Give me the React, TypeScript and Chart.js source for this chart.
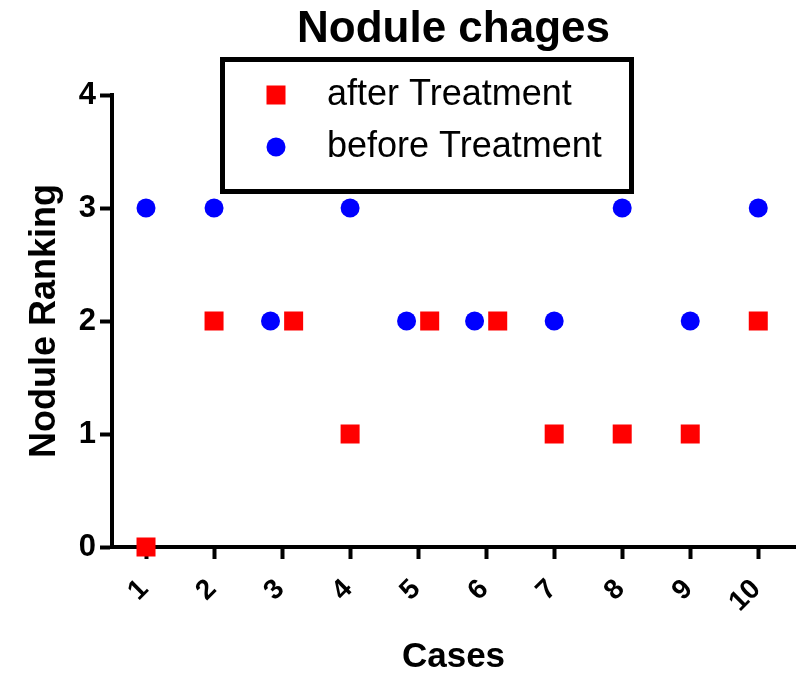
import React, { useEffect, useRef } from 'react';
import { Chart, registerables } from 'chart.js';

Chart.register(...registerables);

// Ranking per case
const cases = [1, 2, 3, 4, 5, 6, 7, 8, 9, 10];
const afterTreatment = [0, 2, 2, 1, 2, 2, 1, 1, 1, 2];
const beforeTreatment = [3, 3, 2, 3, 2, 2, 2, 3, 2, 3];
const rankTicks = [0, 1, 2, 3, 4];

const seriesNames = ['after Treatment', 'before Treatment'];
const seriesColors = ['#ff0000', '#0000ff'];
const chartTitle = 'Nodule chages';
const xTitle = 'Cases';
const yTitle = 'Nodule Ranking';

const FONT = '"Liberation Sans", Arial, Helvetica, sans-serif';
// Horizontal nudge so coinciding points sit side by side
const NUDGE = 0.17;

const afterPoints = cases.map((c, i) => ({
  x: c + (afterTreatment[i] === beforeTreatment[i] ? NUDGE : 0),
  y: afterTreatment[i],
}));
const beforePoints = cases.map((c, i) => ({
  x: c - (afterTreatment[i] === beforeTreatment[i] ? NUDGE : 0),
  y: beforeTreatment[i],
}));

// Framed legend drawn over the upper part of the plot
const boxedLegend = {
  id: 'boxedLegend',
  afterDraw(chart: any) {
    const ctx = chart.ctx as CanvasRenderingContext2D;
    const left = 222.5;
    const top = 59.5;
    const w = 409;
    const h = 132;
    ctx.save();
    ctx.fillStyle = '#ffffff';
    ctx.fillRect(left, top, w, h);
    ctx.lineWidth = 5;
    ctx.strokeStyle = '#000000';
    ctx.strokeRect(left, top, w, h);
    chart.data.datasets.forEach((ds: any, i: number) => {
      const cy = 95 + i * 52;
      const mx = 276;
      ctx.fillStyle = ds.backgroundColor;
      if (ds.pointStyle === 'rect') {
        ctx.fillRect(mx - 9.5, cy - 9.5, 19, 19);
      } else {
        ctx.beginPath();
        ctx.arc(mx, cy, 9.5, 0, Math.PI * 2);
        ctx.fill();
      }
      ctx.fillStyle = '#000000';
      ctx.font = `36px ${FONT}`;
      ctx.textAlign = 'left';
      ctx.textBaseline = 'middle';
      ctx.fillText(ds.label, 327, cy);
    });
    ctx.restore();
  },
};

const axisGrid = {
  display: true,
  drawOnChartArea: false,
  drawTicks: true,
  tickLength: 12,
  tickWidth: 4,
  tickColor: '#000000',
};
const axisBorder = { display: true, color: '#000000', width: 4 };

export default function App() {
  const canvasRef = useRef<HTMLCanvasElement | null>(null);

  useEffect(() => {
    if (!canvasRef.current) return;
    const chart = new Chart(canvasRef.current, {
      type: 'scatter',
      data: {
        datasets: [
          {
            label: seriesNames[0],
            data: afterPoints,
            pointStyle: 'rect',
            pointRadius: 13.44,
            backgroundColor: seriesColors[0],
            borderColor: seriesColors[0],
            pointBorderWidth: 0,
            showLine: false,
            clip: false,
          },
          {
            label: seriesNames[1],
            data: beforePoints,
            pointStyle: 'circle',
            pointRadius: 9.5,
            backgroundColor: seriesColors[1],
            borderColor: seriesColors[1],
            pointBorderWidth: 0,
            showLine: false,
            clip: false,
          },
        ],
      },
      options: {
        responsive: false,
        animation: false,
        events: [],
        layout: { autoPadding: false, padding: { left: 0, right: 7, top: 0, bottom: 0 } },
        plugins: {
          legend: { display: false },
          tooltip: { enabled: false },
          title: {
            display: true,
            fullSize: false,
            text: chartTitle,
            color: '#000000',
            font: { family: FONT, size: 44, weight: 'bold' },
            padding: { top: 3.1, bottom: 39.1 },
          },
        },
        scales: {
          x: {
            type: 'linear',
            min: 0.5,
            max: 10.54,
            afterBuildTicks: (scale: any) => {
              scale.ticks = cases.map((v) => ({ value: v }));
            },
            afterFit: (scale: any) => {
              scale.height = 127;
              scale.paddingLeft = 0;
              scale.paddingRight = 0;
            },
            grid: axisGrid,
            border: axisBorder,
            ticks: {
              color: '#000000',
              font: { family: FONT, size: 28, weight: 'bold' },
              minRotation: 45,
              maxRotation: 45,
              autoSkip: false,
              padding: 14,
              labelOffset: -2,
              callback: (v: any) => String(v),
            },
            title: {
              display: true,
              text: xTitle,
              color: '#000000',
              font: { family: FONT, size: 35, weight: 'bold', lineHeight: 1 },
              padding: { top: 0, bottom: -1 },
            },
          },
          y: {
            type: 'linear',
            min: rankTicks[0],
            max: rankTicks[rankTicks.length - 1],
            afterFit: (scale: any) => {
              scale.width = 112;
              scale.paddingTop = 0;
              scale.paddingBottom = 0;
            },
            grid: axisGrid,
            border: axisBorder,
            ticks: {
              stepSize: 1,
              color: '#000000',
              font: { family: FONT, size: 31, weight: 'bold' },
              padding: 4,
            },
            title: {
              display: true,
              text: yTitle,
              color: '#000000',
              font: { family: FONT, size: 36, weight: 'bold' },
              padding: { top: 23, bottom: 0 },
            },
          },
        },
      },
      plugins: [boxedLegend],
    });
    return () => chart.destroy();
  }, []);

  return (
    <div style={{ position: 'absolute', left: 0, top: 0, width: 802, height: 674, background: '#ffffff' }}>
      <canvas ref={canvasRef} width={802} height={674} style={{ display: 'block' }} />
    </div>
  );
}
